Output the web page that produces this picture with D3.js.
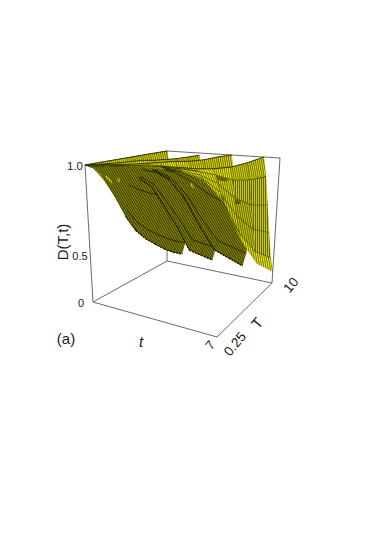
<!DOCTYPE html>
<html>
<head>
<meta charset="utf-8">
<script src="https://cdn.jsdelivr.net/npm/d3@7"></script>
<style>
  html, body { margin: 0; padding: 0; background: #fff; }
  svg { display: block; }
  text { font-family: "Liberation Sans", Arial, sans-serif; fill: #222; }
</style>
</head>
<body>
<svg id="chart" width="382" height="549"></svg>
<script>
// phase = 10 t / T, the surface is a fan from the t = 0 corner
const phases = [0, 0.2, 0.4, 0.6, 0.8, 1, 1.2, 1.4, 1.6, 1.8, 2, 2.2, 2.4, 2.6, 2.8, 3, 3.2, 3.4, 3.6, 3.8, 4, 4.2, 4.4, 4.6, 4.8, 5, 5.2, 5.4, 5.6, 5.8, 6, 6.2, 6.4, 6.6, 6.8, 7];
const periods = [0.25, 1, 2, 3, 4, 5, 6, 7, 8, 9, 10];

// one row of D per period, one value per phase
const dRows = [
    [1, 1, 1, 1, 1, 0.999, 1, 1, 1, 1, 1, 1, 1, 1, 1, 1, 1, 1, 1, 1, 1, 1, 1, 1, 1, 1, 1, 1, 1, 1, 1, 1, 1, 1, 1, 1],
    [1, 0.995, 0.987, 0.98, 0.974, 0.97, 0.974, 0.98, 0.987, 0.995, 1, 1, 0.999, 0.999, 0.998, 0.998, 0.998, 0.999, 0.999, 1, 1, 1, 1, 1, 1, 1, 1, 1, 1, 1, 1, 1, 1, 1, 1, 1],
    [1, 0.978, 0.945, 0.914, 0.886, 0.87, 0.886, 0.914, 0.945, 0.978, 1, 0.998, 0.996, 0.993, 0.991, 0.99, 0.991, 0.993, 0.996, 0.998, 1, 1, 0.999, 0.999, 0.998, 0.998, 0.998, 0.999, 0.999, 1, 1, 1, 0.999, 0.999, 0.998, 0.998],
    [1, 0.954, 0.887, 0.822, 0.762, 0.73, 0.762, 0.822, 0.887, 0.954, 1, 0.992, 0.979, 0.967, 0.956, 0.95, 0.956, 0.967, 0.979, 0.992, 1, 0.998, 0.996, 0.993, 0.991, 0.99, 0.991, 0.993, 0.996, 0.998, 1, 0.998, 0.996, 0.993, 0.991, 0.99],
    [1, 0.925, 0.815, 0.71, 0.613, 0.56, 0.613, 0.71, 0.815, 0.925, 1, 0.98, 0.95, 0.921, 0.894, 0.88, 0.894, 0.921, 0.95, 0.98, 1, 0.993, 0.983, 0.974, 0.965, 0.96, 0.966, 0.97, 0.977, 0.985, 0.99, 0.987, 0.984, 0.98, 0.977, 0.975],
    [1, 0.903, 0.76, 0.624, 0.498, 0.43, 0.498, 0.624, 0.76, 0.903, 1, 0.966, 0.916, 0.868, 0.824, 0.8, 0.824, 0.868, 0.916, 0.966, 1, 0.98, 0.95, 0.921, 0.894, 0.88, 0.892, 0.914, 0.938, 0.963, 0.98, 0.972, 0.959, 0.947, 0.936, 0.93],
    [1, 0.888, 0.723, 0.564, 0.419, 0.34, 0.418, 0.561, 0.717, 0.88, 0.99, 0.927, 0.835, 0.746, 0.664, 0.62, 0.666, 0.749, 0.84, 0.935, 1, 0.951, 0.878, 0.809, 0.745, 0.71, 0.74, 0.795, 0.855, 0.918, 0.96, 0.943, 0.918, 0.894, 0.872, 0.86],
    [1, 0.876, 0.693, 0.518, 0.358, 0.27, 0.356, 0.513, 0.685, 0.863, 0.985, 0.892, 0.756, 0.625, 0.505, 0.44, 0.506, 0.627, 0.759, 0.897, 0.99, 0.902, 0.772, 0.647, 0.532, 0.47, 0.528, 0.633, 0.749, 0.868, 0.95, 0.906, 0.841, 0.778, 0.721, 0.69],
    [1, 0.864, 0.664, 0.472, 0.296, 0.2, 0.294, 0.465, 0.652, 0.847, 0.98, 0.853, 0.665, 0.485, 0.32, 0.23, 0.321, 0.488, 0.671, 0.861, 0.99, 0.868, 0.688, 0.515, 0.356, 0.27, 0.352, 0.501, 0.664, 0.834, 0.95, 0.853, 0.711, 0.574, 0.448, 0.38],
    [1, 0.854, 0.639, 0.432, 0.243, 0.14, 0.241, 0.426, 0.627, 0.837, 0.98, 0.841, 0.636, 0.439, 0.258, 0.16, 0.261, 0.446, 0.647, 0.857, 1, 0.861, 0.656, 0.459, 0.278, 0.18, 0.275, 0.449, 0.638, 0.836, 0.97, 0.836, 0.638, 0.449, 0.275, 0.18],
    [1, 0.845, 0.618, 0.399, 0.199, 0.09, 0.197, 0.393, 0.606, 0.829, 0.98, 0.829, 0.606, 0.393, 0.197, 0.09, 0.199, 0.399, 0.618, 0.845, 1, 0.845, 0.618, 0.399, 0.199, 0.09, 0.199, 0.399, 0.618, 0.845, 1, 0.845, 0.618, 0.399, 0.199, 0.09]
];

const svg = d3.select("#chart");
const defs = svg.append("defs");

// box corners on screen: [t, T] low/high on the floor and on the top
const floorCorners = { a: [93, 302], b: [217, 337], c: [272, 283], d: [167, 261] };
const topCorners = { a: [85, 165], b: [219, 188], c: [280, 158], d: [167, 151] };

const tScale = d3.scaleLinear().domain([0, 7]).range([0, 1]);
const periodScale = d3.scaleLinear().domain([0.25, 10]).range([0, 1]);
const dScale = d3.scaleLinear().domain([0, 1]).range([0, 1]);

function bilinear(c, u, v) {
    const x0 = c.a[0] + (c.b[0] - c.a[0]) * u;
    const y0 = c.a[1] + (c.b[1] - c.a[1]) * u;
    const x1 = c.d[0] + (c.c[0] - c.d[0]) * u;
    const y1 = c.d[1] + (c.c[1] - c.d[1]) * u;
    return [x0 + (x1 - x0) * v, y0 + (y1 - y0) * v];
}

function project(t, T, D) {
    const u = tScale(t), v = periodScale(T), w = dScale(D);
    const f = bilinear(floorCorners, u, v);
    const g = bilinear(topCorners, u, v);
    return [f[0] + (g[0] - f[0]) * w, f[1] + (g[1] - f[1]) * w];
}

// box edges behind the surface
const boxEdges = [
    [floorCorners.a, topCorners.a], [floorCorners.a, floorCorners.b], [floorCorners.a, floorCorners.d],
    [floorCorners.d, floorCorners.c], [floorCorners.b, floorCorners.c], [floorCorners.d, topCorners.d],
    [topCorners.a, topCorners.d], [topCorners.d, topCorners.c], [topCorners.c, floorCorners.c]
];
svg.append("g").selectAll("line").data(boxEdges).join("line")
    .attr("x1", d => d[0][0]).attr("y1", d => d[0][1])
    .attr("x2", d => d[1][0]).attr("y2", d => d[1][1])
    .attr("stroke", "#6a6a6a").attr("stroke-width", 1);

// hatch textures, one per colour and direction
const hatchColor = "#262600";
const darkHatchAngle = 58;
const lightShade = d3.scaleQuantize().domain([0, 1.1]).range(["#ffff00", "#f0f000", "#dcdc00", "#c8c800"]);
const darkShade = "#8c8c00";
const hatchIds = new Map();

function hatchFor(color, angle, width) {
    const snapped = ((Math.round(angle / 10) * 10) % 180 + 180) % 180;
    const key = color + snapped;
    if (!hatchIds.has(key)) {
        const id = "hatch" + hatchIds.size;
        const p = defs.append("pattern").attr("id", id)
            .attr("patternUnits", "userSpaceOnUse")
            .attr("width", 8).attr("height", 2)
            .attr("patternTransform", `rotate(${snapped})`);
        p.append("rect").attr("width", 8).attr("height", 2).attr("fill", color);
        p.append("rect").attr("width", 8).attr("height", width).attr("fill", hatchColor);
        hatchIds.set(key, id);
    }
    return `url(#${hatchIds.get(key)})`;
}

// build the cells
const cells = [];
periods.slice(0, -1).forEach((T0, j) => {
    const T1 = periods[j + 1];
    phases.slice(0, -1).forEach((ph0, i) => {
        const ph1 = phases[i + 1];
        const corners = [
            [ph0, T0, dRows[j][i]], [ph1, T0, dRows[j][i + 1]],
            [ph1, T1, dRows[j + 1][i + 1]], [ph0, T1, dRows[j + 1][i]]
        ];
        const pts = corners.map(c => project(c[0] * c[1] / 10, c[1], c[2]));
        const floorY = d3.mean(corners, c => bilinear(floorCorners, tScale(c[0] * c[1] / 10), periodScale(c[1]))[1]);
        const meanD = d3.mean(corners, c => c[2]);
        // d3.polygonArea is positive here for the upper side of the sheet
        const upper = d3.polygonArea(pts) > 0;
        const light = upper && (ph0 >= 6 || meanD > 0.86);
        const slope = Math.abs(dRows[j + 1][i + 1] - dRows[j + 1][i]) / (ph1 - ph0);
        const hx = pts[1][0] - pts[0][0] + pts[2][0] - pts[3][0];
        const hy = pts[1][1] - pts[0][1] + pts[2][1] - pts[3][1];
        const angle = light ? Math.atan2(hy, hx) * 180 / Math.PI : darkHatchAngle;
        const fill = light ? hatchFor(lightShade(slope), angle, 0.6) : hatchFor(darkShade, angle, 0.8);
        cells.push({
            pts,
            depth: 2.14 * floorY + 58 * meanD,
            fill,
            edge: [pts[0], pts[3]],
            heavy: light ? (j >= 4 || i % 10 === 0) : (j >= 4 && i % 2 === 0),
            fold: i % 10 === 5 && j >= 4
        });
    });
});
cells.sort((a, b) => d3.ascending(a.depth, b.depth));

const surface = svg.append("g");
cells.forEach(c => {
    surface.append("path")
        .attr("d", "M" + c.pts.map(p => p.join(",")).join("L") + "Z")
        .attr("fill", c.fill)
        .attr("stroke", "#3c3c00")
        .attr("stroke-width", 0.15);
    if (c.heavy || c.fold) {
        surface.append("line")
            .attr("x1", c.edge[0][0]).attr("y1", c.edge[0][1])
            .attr("x2", c.edge[1][0]).attr("y2", c.edge[1][1])
            .attr("stroke", "#141400")
            .attr("stroke-width", c.fold ? 1.3 : 0.7)
            .attr("stroke-dasharray", c.fold ? "2 1" : null);
    }
});

// labels
function label(txt, x, y, size, rotate, italic) {
    svg.append("text")
        .attr("text-anchor", "middle").attr("dominant-baseline", "central")
        .attr("transform", `translate(${x},${y}) rotate(${rotate || 0})`)
        .attr("font-size", size)
        .attr("font-style", italic ? "italic" : "normal")
        .text(txt);
}
label("1.0", 75, 166, 11.5);
label("0.5", 80, 256, 11);
label("0", 81, 303, 11);
label("D(T,t)", 62, 242, 15, -90);
label("(a)", 66, 338, 15);
label("t", 141, 341, 15, 0, true);
label("7", 210, 345, 13, -50);
label("0.25", 235, 344, 13.5, -50);
label("T", 257, 323, 15, -50);
label("10", 291, 285, 13.5, -50);
</script>
</body>
</html>
